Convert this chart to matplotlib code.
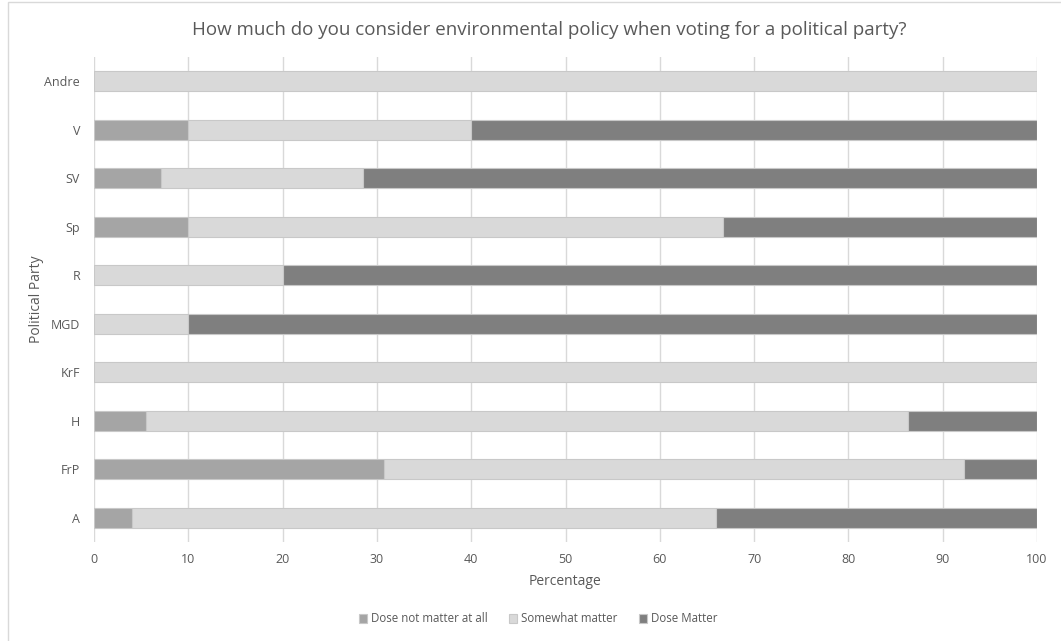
import numpy as np
import matplotlib.pyplot as plt
from matplotlib.patches import Rectangle

parties = ['A', 'FrP', 'H', 'KrF', 'MGD', 'R', 'Sp', 'SV', 'V', 'Andre']
not_matter = [4.0, 30.8, 5.5, 0, 0, 0, 10.0, 7.1, 10.0, 0]
somewhat = [62.0, 61.5, 80.8, 100, 10.0, 20.0, 56.7, 21.4, 30.0, 100]
matter = [34.0, 7.7, 13.7, 0, 90.0, 80.0, 33.3, 71.5, 60.0, 0]

series = ['Dose not matter at all', 'Somewhat matter', 'Dose Matter']
colors = ['#a5a5a5', '#d9d9d9', '#7f7f7f']

plt.rcParams['font.family'] = ['Open Sans', 'DejaVu Sans']
txt = '#595959'

fig = plt.figure(figsize=(10.61, 6.41), dpi=100)
ax = fig.add_axes([94/1061, 1 - 542/641, (1037 - 94)/1061, (542 - 57)/641])

# chart border like the spreadsheet frame
fig.patches.append(Rectangle((8/1061, -0.1), 1.2, 1 - 2/641 + 0.1, transform=fig.transFigure,
                             fill=False, edgecolor='#d9d9d9', lw=1))

y = np.arange(len(parties))
left = np.zeros(len(parties))
for vals, name, c in zip([not_matter, somewhat, matter], series, colors):
  vals = np.array(vals)
  ax.barh(y, vals, left=left, height=0.41, color=c, edgecolor='#c8c8c8', linewidth=0.8,
          label=name, zorder=3)
  left += vals

ax.set_xlim(0, 100)
ax.set_ylim(-0.5, len(parties) - 0.5)
ax.set_xticks(np.arange(0, 101, 10))
ax.set_yticks(y)
ax.set_yticklabels(parties)
ax.tick_params(length=0, colors=txt, labelsize=9)
ax.tick_params(axis='y', pad=10)
ax.tick_params(axis='x', pad=8)
for s in ax.spines.values():
  s.set_visible(False)
ax.grid(axis='x', color='#d9d9d9', lw=1, zorder=0)
ax.set_axisbelow(True)

ax.set_xlabel('Percentage', color=txt, fontsize=10, labelpad=6)
ax.set_ylabel('Political Party', color=txt, fontsize=10)
ax.yaxis.set_label_coords(-50/943, 0.5)
fig.text(549/1061, 1 - 30/641, 'How much do you consider environmental policy when voting for a political party?',
         ha='center', va='center', fontsize=13.5, color=txt)

handles, labels = ax.get_legend_handles_labels()
leg = fig.legend(handles, labels, loc='center', bbox_to_anchor=(538/1061, 1 - 619/641), ncol=3,
                 frameon=False, fontsize=8.3, handlelength=0.7, handleheight=0.7,
                 handletextpad=0.3, columnspacing=1.9)
for t in leg.get_texts():
  t.set_color(txt)

fig.savefig('out.png', dpi=100)
